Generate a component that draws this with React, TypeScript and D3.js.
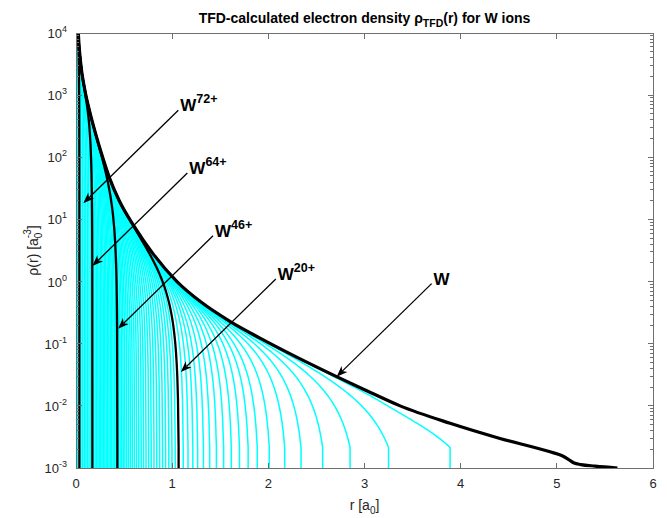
import React from "react";
import * as d3 from "d3";

// Neutral W (Z = 74): r [a0] and log10 of the TFD electron density [a0^-3]
const neutralR = [
  0.004, 0.01, 0.024, 0.05, 0.09, 0.14, 0.2, 0.277, 0.35, 0.45, 0.6, 0.8, 1.05,
  1.3, 1.6, 1.913, 2.3, 2.71, 3.0, 3.37, 3.89, 4.4, 4.93, 5.05, 5.12, 5.18, 5.25,
  5.4, 5.63,
];
const neutralLogRho = [
  5.05, 4.6, 4.0, 3.5, 3.1, 2.75, 2.4, 2.0, 1.66, 1.3, 0.9, 0.45, 0.0, -0.33,
  -0.64, -0.91, -1.22, -1.53, -1.74, -2.0, -2.28, -2.52, -2.74, -2.8, -2.86,
  -2.92, -2.945, -2.97, -3.0,
];

// Ion charge states W^q+ and their boundary radii r0 [a0]
const ionCharges = [
  73, 72, 71, 70, 69, 68, 67, 66, 65, 64, 63, 62, 61, 60, 59, 58, 57, 56, 55, 54,
  53, 52, 51, 50, 49, 48, 47, 46, 45, 44, 43, 42, 41, 40, 39, 38, 37, 36, 35, 34,
  33, 32, 31, 30, 29, 28, 27, 26, 25, 24, 23, 22, 21, 20, 19, 18, 17, 16, 15, 14,
  13, 12, 11, 10, 9, 8, 7, 6, 5, 4, 3, 2, 1,
];
const ionRadii = [
  0.015, 0.035, 0.052, 0.069, 0.086, 0.103, 0.12, 0.136, 0.153, 0.17, 0.184,
  0.199, 0.213, 0.228, 0.242, 0.257, 0.271, 0.285, 0.3, 0.314, 0.329, 0.343,
  0.358, 0.372, 0.386, 0.401, 0.415, 0.43, 0.444, 0.459, 0.475, 0.491, 0.508,
  0.527, 0.546, 0.566, 0.586, 0.608, 0.63, 0.653, 0.678, 0.702, 0.728, 0.755,
  0.782, 0.811, 0.84, 0.87, 0.9, 0.932, 0.965, 0.998, 1.032, 1.067, 1.115, 1.165,
  1.215, 1.265, 1.325, 1.39, 1.46, 1.535, 1.615, 1.7, 1.79, 1.885, 2.01, 2.17,
  2.34, 2.565, 2.85, 3.25, 3.89,
];
const highlightedCharges = [72, 64, 46, 20];
// density at the ion boundary (log10, a0^-3)
const boundaryLogRho = -2.67;

const xTicks = [0, 1, 2, 3, 4, 5, 6];
const yExponents = [-3, -2, -1, 0, 1, 2, 3, 4];

// Labelled arrows: charge label and the point (r, log10 rho) each arrow points at
const arrowLabels = ["72+", "64+", "46+", "20+", ""];
const arrowTipR = [0.076, 0.17, 0.437, 1.09, 2.71];
const arrowTipLogRho = [1.26, 0.25, -0.76, -1.455, -1.53];

const FONT = "'Liberation Sans', Arial, Helvetica, sans-serif";
const TEXT = "#262626";

// Monotone cubic interpolation (same slopes as d3.curveMonotoneX)
function monotone(xs: number[], ys: number[]) {
  const n = xs.length;
  const h: number[] = [];
  const s: number[] = [];
  for (let i = 0; i < n - 1; i++) {
    h[i] = xs[i + 1] - xs[i];
    s[i] = (ys[i + 1] - ys[i]) / h[i];
  }
  const sgn = (v: number) => (v < 0 ? -1 : 1);
  const t: number[] = new Array(n).fill(0);
  for (let i = 1; i < n - 1; i++) {
    const p = (s[i - 1] * h[i] + s[i] * h[i - 1]) / (h[i - 1] + h[i]);
    t[i] =
      (sgn(s[i - 1]) + sgn(s[i])) *
        Math.min(Math.abs(s[i - 1]), Math.abs(s[i]), 0.5 * Math.abs(p)) || 0;
  }
  t[0] = (3 * s[0] - t[1]) / 2;
  t[n - 1] = (3 * s[n - 2] - t[n - 2]) / 2;
  return (xv: number) => {
    let i = d3.bisectRight(xs, xv) - 1;
    i = Math.max(0, Math.min(n - 2, i));
    const u = (xv - xs[i]) / h[i];
    const u2 = u * u;
    const u3 = u2 * u;
    return (
      (2 * u3 - 3 * u2 + 1) * ys[i] +
      (u3 - 2 * u2 + u) * h[i] * t[i] +
      (-2 * u3 + 3 * u2) * ys[i + 1] +
      (u3 - u2) * h[i] * t[i + 1]
    );
  };
}

function sampleRadii(r0: number) {
  const rMin = neutralR[0];
  const out: number[] = [];
  const n1 = 90;
  for (let i = 0; i <= n1; i++) out.push(rMin * Math.pow(r0 / rMin, i / n1));
  const n2 = 80;
  for (let i = 0; i <= n2; i++) out.push(r0 * (0.5 + 0.5 * (i / n2)));
  return Array.from(new Set(out.filter((r) => r <= r0 && r >= rMin))).sort(
    (a, b) => a - b
  );
}

export default function App() {
  const width = 667;
  const height = 518;
  const left = 76;
  const right = 653;
  const top = 33;
  const bottom = 468;

  const x = d3.scaleLinear().domain([0, 6]).range([left, right]);
  const y = d3.scaleLog().domain([1e-3, 1e4]).range([bottom, top]);

  const logN = monotone(neutralR, neutralLogRho);
  const tb = Math.pow(10, (boundaryLogRho * 2) / 3);

  const line = d3
    .line<[number, number]>()
    .x((d) => x(d[0]))
    .y((d) => y(d[1]));

  const ionCurves = ionCharges.map((q, i) => {
    const r0 = ionRadii[i];
    const s = Math.pow(10, (logN(r0) * 2) / 3) - tb;
    const pts: [number, number][] = sampleRadii(r0).map((r) => {
      const tN = Math.pow(10, (logN(r) * 2) / 3);
      const t = tN - s * Math.pow(r / r0, 4);
      return [r, Math.pow(Math.max(t, 1e-9), 1.5)];
    });
    pts.push([r0, 1e-7]);
    return { q, d: line(pts) as string, hi: highlightedCharges.includes(q) };
  });

  const neutralPts: [number, number][] = neutralR.map((r, i) => [
    r,
    Math.pow(10, neutralLogRho[i]),
  ]);
  const neutralPath = d3
    .line<[number, number]>()
    .x((d) => x(d[0]))
    .y((d) => y(d[1]))
    .curve(d3.curveMonotoneX)(neutralPts) as string;

  const minorY: number[] = [];
  for (let e = -3; e < 4; e++)
    for (let m = 2; m <= 9; m++) minorY.push(m * Math.pow(10, e));

  const axisColor = "#6f6f6f";
  const majorLen = 5.5;
  const minorLen = 3;

  const arrows = arrowLabels.map((lab, i) => {
    const tx = x(arrowTipR[i]);
    const ty = y(Math.pow(10, arrowTipLogRho[i]));
    const sx = tx + 95;
    const sy = ty - 93;
    const dx = tx - sx;
    const dy = ty - sy;
    const len = Math.hypot(dx, dy);
    const ux = dx / len;
    const uy = dy / len;
    const nx = -uy;
    const ny = ux;
    const L = 11;
    const hw = 4.2;
    const bx = tx - ux * L;
    const by = ty - uy * L;
    const kx = tx - ux * L * 0.72;
    const ky = ty - uy * L * 0.72;
    const head = `M${tx},${ty}L${bx + nx * hw},${by + ny * hw}L${kx},${ky}L${bx - nx * hw},${by - ny * hw}Z`;
    return { lab, sx, sy, kx, ky, head };
  });

  return (
    <div style={{ position: "fixed", left: 0, top: 0 }}>
      <svg width={width} height={height} style={{ display: "block", background: "#fff" }}>
        <defs>
          <clipPath id="plotClip">
            <rect x={left} y={top} width={right - left} height={bottom - top} />
          </clipPath>
        </defs>

        <g clipPath="url(#plotClip)" fill="none" strokeLinejoin="round">
          {ionCurves
            .filter((c) => !c.hi)
            .map((c) => (
              <path key={c.q} d={c.d} stroke="#00ffff" strokeWidth={1.5} />
            ))}
          {ionCurves
            .filter((c) => c.hi)
            .map((c) => (
              <path key={c.q} d={c.d} stroke="#000" strokeWidth={2.3} />
            ))}
          <path d={neutralPath} stroke="#000" strokeWidth={3.2} />
        </g>

        {/* axes box and ticks */}
        <g stroke={axisColor} strokeWidth={1} fill="none" shapeRendering="crispEdges">
          <rect x={left} y={top} width={right - left} height={bottom - top} />
          {xTicks.map((t) => (
            <g key={t}>
              <line x1={x(t)} x2={x(t)} y1={bottom} y2={bottom - majorLen} />
              <line x1={x(t)} x2={x(t)} y1={top} y2={top + majorLen} />
            </g>
          ))}
          {yExponents.map((e) => (
            <g key={e}>
              <line x1={left} x2={left + majorLen} y1={y(Math.pow(10, e))} y2={y(Math.pow(10, e))} />
              <line x1={right} x2={right - majorLen} y1={y(Math.pow(10, e))} y2={y(Math.pow(10, e))} />
            </g>
          ))}
          {minorY.map((v, i) => (
            <g key={i}>
              <line x1={left} x2={left + minorLen} y1={y(v)} y2={y(v)} />
              <line x1={right} x2={right - minorLen} y1={y(v)} y2={y(v)} />
            </g>
          ))}
        </g>

        {/* tick labels */}
        <g fontFamily={FONT} fill={TEXT}>
          {xTicks.map((t) => (
            <text key={t} x={x(t)} y={bottom + 20} fontSize={13} textAnchor="middle">
              {t}
            </text>
          ))}
          {yExponents.map((e) => (
            <text key={e} x={left - 9} y={y(Math.pow(10, e)) + 5} fontSize={13} textAnchor="end">
              <tspan>10</tspan>
              <tspan dy={-6} fontSize={9}>
                {e}
              </tspan>
            </text>
          ))}
        </g>

        {/* axis labels */}
        <text x={(left + right) / 2} y={510} fontFamily={FONT} fill={TEXT} fontSize={14} textAnchor="middle">
          <tspan>r [a</tspan>
          <tspan dy={4} fontSize={10}>0</tspan>
          <tspan dy={-4}>]</tspan>
        </text>
        <text
          transform={`translate(38,${(top + bottom) / 2}) rotate(-90)`}
          fontFamily={FONT}
          fill={TEXT}
          fontSize={14}
          textAnchor="middle"
        >
          <tspan>ρ(r) [a</tspan>
          <tspan dy={4} fontSize={10}>0</tspan>
          <tspan dx={-5.6} dy={-11} fontSize={10}>-3</tspan>
          <tspan dy={7}>]</tspan>
        </text>

        {/* title */}
        <text x={(left + right) / 2} y={23} fontFamily={FONT} fill="#000" fontSize={14} fontWeight="bold" textAnchor="middle">
          <tspan>TFD-calculated electron density ρ</tspan>
          <tspan dy={4} fontSize={10.5}>TFD</tspan>
          <tspan dy={-4}>(r) for W ions</tspan>
        </text>

        {/* arrows with labels */}
        {arrows.map((a, i) => (
          <g key={i}>
            <line x1={a.sx} y1={a.sy} x2={a.kx} y2={a.ky} stroke="#000" strokeWidth={1.3} />
            <path d={a.head} fill="#000" />
            <text x={a.sx + 2} y={a.sy + 1} fontFamily={FONT} fontWeight="bold" fontSize={17} fill="#000">
              <tspan>W</tspan>
              {a.lab && (
                <tspan dy={-8} fontSize={12.5}>
                  {a.lab}
                </tspan>
              )}
            </text>
          </g>
        ))}
      </svg>
    </div>
  );
}
